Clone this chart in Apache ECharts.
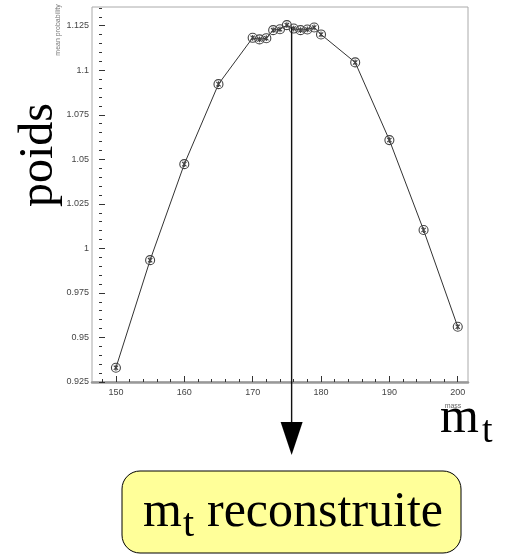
<!DOCTYPE html>
<html>
<head>
<meta charset="utf-8">
<script src="https://cdn.jsdelivr.net/npm/echarts@6/dist/echarts.min.js"></script>
<style>
  html, body { margin: 0; padding: 0; background: #fff; }
  #chart { width: 507px; height: 555px; }
</style>
</head>
<body>
<div id="chart"></div>
<script>
// Top-mass scan: mean probability (weight) versus generated mass
const massValues = [150, 155, 160, 165, 170, 171, 172, 173, 174, 175, 176, 177, 178, 179, 180, 185, 190, 195, 200];
const weightValues = [0.933, 0.9934, 1.0473, 1.0922, 1.1182, 1.1173, 1.118, 1.1225, 1.123, 1.1253, 1.1234, 1.1225, 1.1229, 1.124, 1.1201, 1.1044, 1.0608, 1.0103, 0.956];

// Axis ticks and labels
const massMajorTicks = [150, 160, 170, 180, 190, 200];
const massMinorTicks = [148, 152, 154, 156, 158, 162, 164, 166, 168, 172, 174, 176, 178, 182, 184, 186, 188, 192, 194, 196, 198];
const weightMajorTicks = [0.925, 0.95, 0.975, 1, 1.025, 1.05, 1.075, 1.1, 1.125];
const weightMinorTicks = [0.93, 0.935, 0.94, 0.945, 0.955, 0.96, 0.965, 0.97, 0.98, 0.985, 0.99, 0.995,
  1.005, 1.01, 1.015, 1.02, 1.03, 1.035, 1.04, 1.045, 1.055, 1.06, 1.065, 1.07,
  1.08, 1.085, 1.09, 1.095, 1.105, 1.11, 1.115, 1.12, 1.13, 1.135];

// Reconstructed mass marked by the arrow
const arrowMass = 175.7;
const arrowTopWeight = 1.124;

const points = massValues.map((m, i) => [m, weightValues[i]]);

const tickFont = { fontFamily: 'Liberation Sans, Arial, sans-serif', fontSize: 9, color: '#444' };
const serif = 'Liberation Serif, Times New Roman, serif';

const chart = echarts.init(document.getElementById('chart'), null, { renderer: 'canvas' });

chart.setOption({
  animation: false,
  backgroundColor: '#fff',
  grid: {
    left: 92, top: 7, right: 39, bottom: 173,
    show: true, borderColor: '#aaa', borderWidth: 1, backgroundColor: '#fff'
  },
  xAxis: [{
    type: 'value', min: 146.5, max: 201.5, position: 'bottom',
    axisLine: { show: true, lineStyle: { color: '#999', width: 2.5 } },
    axisTick: { show: true, inside: true, length: 6, customValues: massMajorTicks, lineStyle: { color: '#333', width: 1 } },
    axisLabel: { show: true, margin: 6, customValues: massMajorTicks, ...tickFont },
    splitLine: { show: false }
  }, {
    type: 'value', min: 146.5, max: 201.5, position: 'bottom',
    axisLine: { show: false },
    axisTick: { show: true, inside: true, length: 3, customValues: massMinorTicks, lineStyle: { color: '#333', width: 1 } },
    axisLabel: { show: false },
    splitLine: { show: false }
  }],
  yAxis: [{
    type: 'value', min: 0.925, max: 1.1355, position: 'left', offset: -7,
    axisLine: { show: false },
    axisTick: { show: true, inside: true, length: 6, customValues: weightMajorTicks, lineStyle: { color: '#333', width: 1 } },
    axisLabel: {
      show: true, margin: 10, customValues: weightMajorTicks, ...tickFont,
      formatter: v => String(+(+v).toFixed(3))
    },
    splitLine: { show: false }
  }, {
    type: 'value', min: 0.925, max: 1.1355, position: 'left', offset: -7,
    axisLine: { show: false },
    axisTick: { show: true, inside: true, length: 3, customValues: weightMinorTicks, lineStyle: { color: '#333', width: 1 } },
    axisLabel: { show: false },
    splitLine: { show: false }
  }],
  series: [{
    type: 'line',
    xAxisIndex: 0, yAxisIndex: 0,
    data: points,
    symbol: 'path://M0,5A5,5 0 1,1 10,5A5,5 0 1,1 0,5ZM2.6,2.6L7.4,7.4M7.4,2.6L2.6,7.4M5,1.8L5,8.2',
    symbolSize: 9,
    showSymbol: true,
    itemStyle: { color: 'rgba(0,0,0,0)', borderColor: '#444', borderWidth: 1.1 },
    lineStyle: { color: '#333', width: 1 },
    emphasis: { disabled: true },
    z: 3
  }]
});

// Annotations: arrow, axis captions, and the boxed label
const ax = chart.convertToPixel({ xAxisIndex: 0 }, arrowMass);
const ayTop = chart.convertToPixel({ yAxisIndex: 0 }, arrowTopWeight);
const arrowHeadTop = 422, arrowTip = 455, arrowHalf = 11;

chart.setOption({
  graphic: [
    {
      type: 'line', z: 10,
      shape: { x1: ax, y1: ayTop, x2: ax, y2: arrowHeadTop + 2 },
      style: { stroke: '#111', lineWidth: 1.4 }
    },
    {
      type: 'polygon', z: 10,
      shape: { points: [[ax - arrowHalf, arrowHeadTop], [ax + arrowHalf, arrowHeadTop], [ax, arrowTip]] },
      style: { fill: '#000' }
    },
    {
      type: 'text', x: 39, y: 155, rotation: Math.PI / 2,
      style: { text: 'poids', font: '48px ' + serif, fill: '#000', align: 'center', verticalAlign: 'middle' }
    },
    {
      type: 'text', x: 58, y: 30, rotation: Math.PI / 2,
      style: { text: 'mean probability', font: '7px Liberation Sans, Arial, sans-serif', fill: '#777', align: 'center', verticalAlign: 'middle' }
    },
    {
      type: 'text', x: 453, y: 406,
      style: { text: 'mass', font: '7px Liberation Sans, Arial, sans-serif', fill: '#666', align: 'center', verticalAlign: 'middle' }
    },
    {
      type: 'text', x: 440, y: 419,
      style: { text: 'm', font: '50px ' + serif, fill: '#000', align: 'left', verticalAlign: 'middle' }
    },
    {
      type: 'text', x: 482, y: 432,
      style: { text: 't', font: '38px ' + serif, fill: '#000', align: 'left', verticalAlign: 'middle' }
    },
    {
      type: 'rect', z: 5,
      shape: { x: 122, y: 471, width: 339, height: 82, r: 18 },
      style: { fill: '#ffff99', stroke: '#000', lineWidth: 1 }
    },
    {
      type: 'text', z: 6, x: 143, y: 513,
      style: { text: 'm', font: '50px ' + serif, fill: '#000', align: 'left', verticalAlign: 'middle' }
    },
    {
      type: 'text', z: 6, x: 183, y: 525,
      style: { text: 't', font: '40px ' + serif, fill: '#000', align: 'left', verticalAlign: 'middle' }
    },
    {
      type: 'text', z: 6, x: 207, y: 513,
      style: { text: 'reconstruite', font: '50px ' + serif, fill: '#000', align: 'left', verticalAlign: 'middle' }
    }
  ]
});
</script>
</body>
</html>
